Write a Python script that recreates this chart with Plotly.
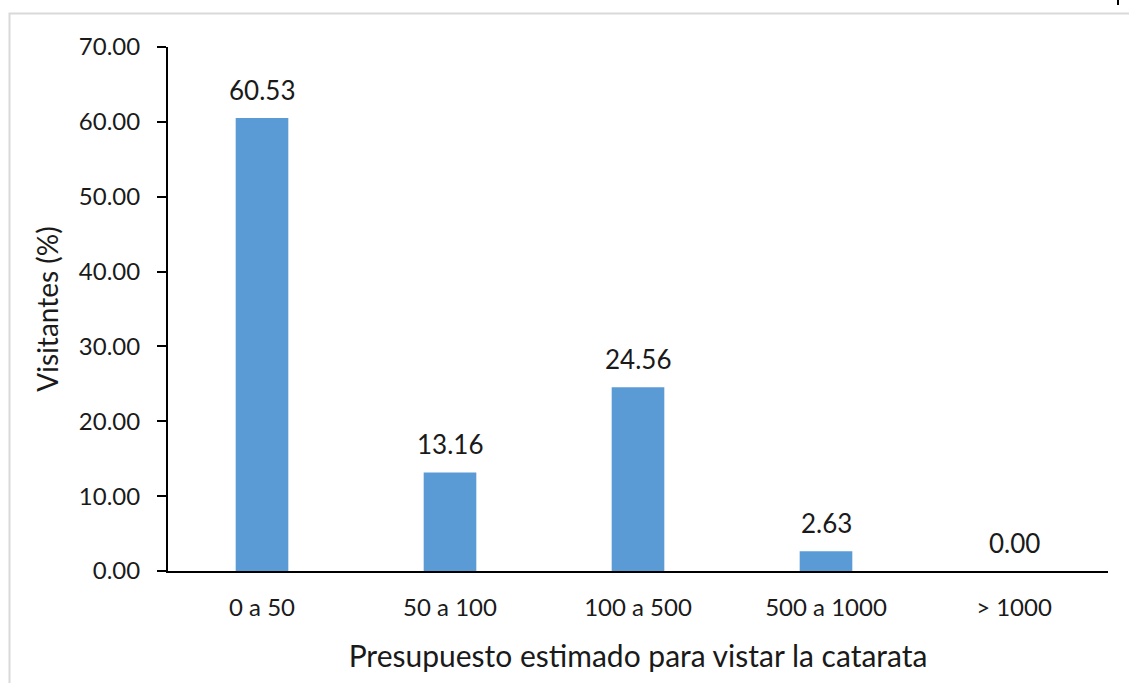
import plotly.graph_objects as go

# Budget ranges and share of visitors (%)
categorias = ["0 a 50", "50 a 100", "100 a 500", "500 a 1000", "> 1000"]
visitantes = [60.53, 13.16, 24.56, 2.63, 0.00]
y_ticks = [0, 10, 20, 30, 40, 50, 60, 70]
y_tick_labels = [f"{v:.2f}" for v in y_ticks]

W, H = 1129, 683
L, R, T, B = 168, 21, 47, 112
pw, ph = W - L - R, H - T - B

def px_x(p):
    return (p - L) / pw

def px_y(p):
    return (H - B - p) / ph

FONT = "Lato"
TXT = "#1a1a1a"

fig = go.Figure()
fig.add_trace(go.Bar(
    x=categorias,
    y=visitantes,
    width=0.28,
    marker=dict(color="#5B9BD5", line=dict(width=0)),
    showlegend=False,
    hoverinfo="skip",
))

# value labels above each bar
for c, v in zip(categorias, visitantes):
    fig.add_annotation(
        x=c, y=v, text=f"{v:.2f}", showarrow=False,
        yanchor="bottom", yshift=10,
        font=dict(family=FONT, size=26, color=TXT),
    )

# outer chart frame (light grey) and small dark mark at top-right
fig.add_shape(
    type="rect", xref="paper", yref="paper",
    x0=px_x(9.5), x1=px_x(W + 10), y0=px_y(H + 10), y1=px_y(13.5),
    line=dict(color="#d9d9d9", width=2), fillcolor="rgba(0,0,0,0)",
    layer="below",
)
fig.add_shape(
    type="line", xref="paper", yref="paper",
    x0=px_x(1118), x1=px_x(1118), y0=px_y(5), y1=px_y(-1),
    line=dict(color="#000000", width=2),
)

fig.update_layout(
    width=W, height=H,
    margin=dict(l=L, r=R, t=T, b=B, autoexpand=False),
    paper_bgcolor="white",
    plot_bgcolor="white",
    font=dict(family=FONT, size=24, color=TXT),
    xaxis=dict(
        showline=True, linecolor="black", linewidth=2,
        ticks="", showgrid=False, zeroline=False,
        tickfont=dict(family=FONT, size=24, color=TXT),
        ticklabelstandoff=14,
        title=dict(text="Presupuesto estimado para vistar la catarata",
                   font=dict(family=FONT, size=30, color=TXT), standoff=26),
        range=[-0.5, 4.5],
    ),
    yaxis=dict(
        range=[0, 70],
        tickvals=y_ticks, ticktext=y_tick_labels,
        showline=True, linecolor="black", linewidth=2,
        ticks="outside", ticklen=9, tickwidth=2, tickcolor="black",
        showgrid=False, zeroline=False,
        tickfont=dict(family=FONT, size=24, color=TXT),
        ticklabelstandoff=12,
        title=dict(text="Visitantes (%)",
                   font=dict(family=FONT, size=28, color=TXT), standoff=12),
    ),
)

fig.write_html("out.html")
